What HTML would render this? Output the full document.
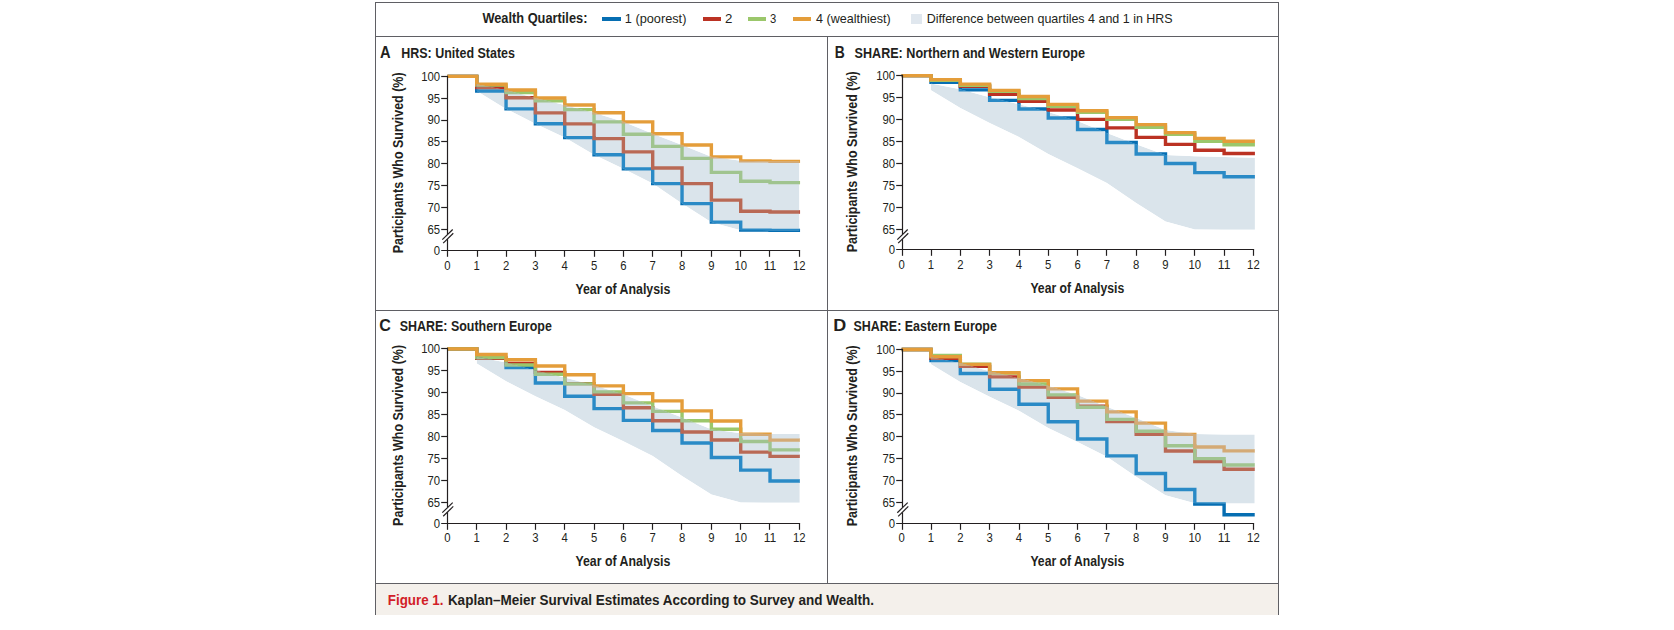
<!DOCTYPE html>
<html><head><meta charset="utf-8"><title>Figure 1</title>
<style>
html,body{margin:0;padding:0;background:#fff;}
body{width:1674px;height:630px;overflow:hidden;font-family:"Liberation Sans", sans-serif;}
svg{display:block;}
</style></head><body>
<svg width="1674" height="630" viewBox="0 0 1674 630">
<rect x="0" y="0" width="1674" height="630" fill="#fff"/>
<rect x="376" y="584" width="902" height="31" fill="rgb(244,240,235)"/>
<g stroke="#5f5f64" stroke-width="1" fill="none">
<line x1="375.5" y1="2" x2="375.5" y2="615"/>
<line x1="1278.5" y1="2" x2="1278.5" y2="615"/>
<line x1="375" y1="2.5" x2="1279" y2="2.5"/>
<line x1="375" y1="36.5" x2="1279" y2="36.5"/>
<line x1="375" y1="310.5" x2="1279" y2="310.5"/>
<line x1="375" y1="583.5" x2="1279" y2="583.5"/>
<line x1="827.5" y1="36" x2="827.5" y2="584"/>
</g>
<text id="capR" x="387.76" y="605.10" font-family="'Liberation Sans', sans-serif" font-weight="bold" font-size="14.5" fill="rgb(210,30,40)" textLength="55.77" lengthAdjust="spacingAndGlyphs">Figure 1.</text>
<text id="capT" x="447.89" y="605.10" font-family="'Liberation Sans', sans-serif" font-weight="bold" font-size="14.5" fill="#231f20" textLength="426.11" lengthAdjust="spacingAndGlyphs">Kaplan–Meier Survival Estimates According to Survey and Wealth.</text>
<text id="leg0" x="482.40" y="22.90" font-family="'Liberation Sans', sans-serif" font-weight="bold" font-size="14.5" fill="#231f20" textLength="105.02" lengthAdjust="spacingAndGlyphs">Wealth Quartiles:</text>
<rect x="602" y="17" width="19" height="4" fill="rgb(6,110,178)"/>
<text id="leg1" x="624.78" y="22.90" font-family="'Liberation Sans', sans-serif" font-weight="normal" font-size="13.0" fill="#231f20" textLength="61.62" lengthAdjust="spacingAndGlyphs">1 (poorest)</text>
<rect x="703" y="17" width="18" height="4" fill="rgb(187,50,35)"/>
<text id="leg2" x="725.14" y="22.90" font-family="'Liberation Sans', sans-serif" font-weight="normal" font-size="13.0" fill="#231f20" textLength="7.38" lengthAdjust="spacingAndGlyphs">2</text>
<rect x="748" y="17" width="18" height="4" fill="rgb(155,199,107)"/>
<text id="leg3" x="769.97" y="22.90" font-family="'Liberation Sans', sans-serif" font-weight="normal" font-size="13.0" fill="#231f20" textLength="6.25" lengthAdjust="spacingAndGlyphs">3</text>
<rect x="793" y="17" width="18" height="4" fill="rgb(228,157,58)"/>
<text id="leg4" x="816.09" y="22.90" font-family="'Liberation Sans', sans-serif" font-weight="normal" font-size="13.0" fill="#231f20" textLength="74.62" lengthAdjust="spacingAndGlyphs">4 (wealthiest)</text>
<rect x="911" y="14" width="11" height="10" fill="rgb(224,231,238)"/>
<text id="leg5" x="926.69" y="22.90" font-family="'Liberation Sans', sans-serif" font-weight="normal" font-size="13.0" fill="#231f20" textLength="246.01" lengthAdjust="spacingAndGlyphs">Difference between quartiles 4 and 1 in HRS</text>
<path d="M447.40,76.40 H476.73 V91.04 H506.06 V108.88 H535.39 V123.69 H564.72 V137.59 H594.05 V154.82 H623.38 V168.85 H652.71 V183.62 H682.04 V203.60 H711.37 V222.13 H740.70 V230.13 H770.03 V230.39 H800.06" fill="none" stroke="rgb(6,110,178)" stroke-width="3.4"/>
<path d="M447.40,76.40 H476.73 V87.55 H506.06 V97.82 H535.39 V112.90 H564.72 V123.83 H594.05 V138.60 H623.38 V151.89 H652.71 V167.97 H682.04 V183.66 H711.37 V200.10 H740.70 V211.29 H770.03 V211.99 H800.06" fill="none" stroke="rgb(187,50,35)" stroke-width="3.4"/>
<path d="M447.40,76.40 H476.73 V85.14 H506.06 V92.57 H535.39 V100.88 H564.72 V109.62 H594.05 V121.86 H623.38 V134.32 H652.71 V146.42 H682.04 V158.36 H711.37 V172.39 H740.70 V181.30 H770.03 V182.62 H800.06" fill="none" stroke="rgb(155,199,107)" stroke-width="3.4"/>
<path d="M447.40,76.40 H476.73 V84.18 H506.06 V89.95 H535.39 V98.04 H564.72 V105.03 H594.05 V112.68 H623.38 V121.86 H652.71 V133.75 H682.04 V145.02 H711.37 V156.83 H740.70 V160.85 H770.03 V161.42 H800.06" fill="none" stroke="rgb(228,157,58)" stroke-width="3.4"/>
<clipPath id="clipA"><polygon points="476.73,84.18 506.06,89.95 535.39,98.04 564.72,105.03 594.05,112.68 623.38,121.86 652.71,133.75 682.04,145.02 711.37,156.83 740.70,160.85 770.03,161.42 799.36,161.42 799.36,230.39 770.03,230.39 740.70,230.13 711.37,222.13 682.04,203.60 652.71,183.62 623.38,168.85 594.05,154.82 564.72,137.59 535.39,123.69 506.06,108.88 476.73,91.04"/></clipPath>
<g clip-path="url(#clipA)">
<polygon points="476.73,84.18 506.06,89.95 535.39,98.04 564.72,105.03 594.05,112.68 623.38,121.86 652.71,133.75 682.04,145.02 711.37,156.83 740.70,160.85 770.03,161.42 799.36,161.42 799.36,230.39 770.03,230.39 740.70,230.13 711.37,222.13 682.04,203.60 652.71,183.62 623.38,168.85 594.05,154.82 564.72,137.59 535.39,123.69 506.06,108.88 476.73,91.04" fill="rgb(218,228,235)"/>
<path d="M447.40,76.40 H476.73 V91.04 H506.06 V108.88 H535.39 V123.69 H564.72 V137.59 H594.05 V154.82 H623.38 V168.85 H652.71 V183.62 H682.04 V203.60 H711.37 V222.13 H740.70 V230.13 H770.03 V230.39 H800.06" fill="none" stroke="rgb(42,138,198)" stroke-width="3.4"/>
<path d="M447.40,76.40 H476.73 V87.55 H506.06 V97.82 H535.39 V112.90 H564.72 V123.83 H594.05 V138.60 H623.38 V151.89 H652.71 V167.97 H682.04 V183.66 H711.37 V200.10 H740.70 V211.29 H770.03 V211.99 H800.06" fill="none" stroke="rgb(185,105,85)" stroke-width="3.4"/>
<path d="M447.40,76.40 H476.73 V85.14 H506.06 V92.57 H535.39 V100.88 H564.72 V109.62 H594.05 V121.86 H623.38 V134.32 H652.71 V146.42 H682.04 V158.36 H711.37 V172.39 H740.70 V181.30 H770.03 V182.62 H800.06" fill="none" stroke="rgb(160,196,143)" stroke-width="3.4"/>
<path d="M447.40,76.40 H476.73 V84.18 H506.06 V89.95 H535.39 V98.04 H564.72 V105.03 H594.05 V112.68 H623.38 V121.86 H652.71 V133.75 H682.04 V145.02 H711.37 V156.83 H740.70 V160.85 H770.03 V161.42 H800.06" fill="none" stroke="rgb(212,170,118)" stroke-width="3.4"/>
</g>
<g stroke="#231f20" stroke-width="1.2" fill="none">
<line x1="447.50" y1="75.84" x2="447.50" y2="234.09"/>
<line x1="447.50" y1="239.19" x2="447.50" y2="256.80"/>
<line x1="442.30" y1="239.59" x2="452.70" y2="229.49"/>
<line x1="443.20" y1="243.19" x2="453.30" y2="233.29"/>
<line x1="441.20" y1="250.50" x2="800.10" y2="250.50"/>
<line x1="441.20" y1="76.50" x2="447.50" y2="76.50"/>
<line x1="441.20" y1="98.50" x2="447.50" y2="98.50"/>
<line x1="441.20" y1="120.50" x2="447.50" y2="120.50"/>
<line x1="441.20" y1="141.50" x2="447.50" y2="141.50"/>
<line x1="441.20" y1="163.50" x2="447.50" y2="163.50"/>
<line x1="441.20" y1="185.50" x2="447.50" y2="185.50"/>
<line x1="441.20" y1="207.50" x2="447.50" y2="207.50"/>
<line x1="441.20" y1="229.50" x2="447.50" y2="229.50"/>
<line x1="477.50" y1="250.50" x2="477.50" y2="256.80"/>
<line x1="506.50" y1="250.50" x2="506.50" y2="256.80"/>
<line x1="535.50" y1="250.50" x2="535.50" y2="256.80"/>
<line x1="564.50" y1="250.50" x2="564.50" y2="256.80"/>
<line x1="594.50" y1="250.50" x2="594.50" y2="256.80"/>
<line x1="623.50" y1="250.50" x2="623.50" y2="256.80"/>
<line x1="652.50" y1="250.50" x2="652.50" y2="256.80"/>
<line x1="681.50" y1="250.50" x2="681.50" y2="256.80"/>
<line x1="711.50" y1="250.50" x2="711.50" y2="256.80"/>
<line x1="740.50" y1="250.50" x2="740.50" y2="256.80"/>
<line x1="769.50" y1="250.50" x2="769.50" y2="256.80"/>
<line x1="799.50" y1="250.50" x2="799.50" y2="256.80"/>
</g>
<g font-family="'Liberation Sans', sans-serif" font-size="12.2" fill="#231f20">
<text x="440.10" y="80.74" text-anchor="end" textLength="18.90" lengthAdjust="spacingAndGlyphs">100</text>
<text x="440.10" y="102.59" text-anchor="end" textLength="12.60" lengthAdjust="spacingAndGlyphs">95</text>
<text x="440.10" y="124.44" text-anchor="end" textLength="12.60" lengthAdjust="spacingAndGlyphs">90</text>
<text x="440.10" y="146.29" text-anchor="end" textLength="12.60" lengthAdjust="spacingAndGlyphs">85</text>
<text x="440.10" y="168.14" text-anchor="end" textLength="12.60" lengthAdjust="spacingAndGlyphs">80</text>
<text x="440.10" y="189.99" text-anchor="end" textLength="12.60" lengthAdjust="spacingAndGlyphs">75</text>
<text x="440.10" y="211.84" text-anchor="end" textLength="12.60" lengthAdjust="spacingAndGlyphs">70</text>
<text x="440.10" y="233.69" text-anchor="end" textLength="12.60" lengthAdjust="spacingAndGlyphs">65</text>
<text x="440.10" y="254.80" text-anchor="end" textLength="6.30" lengthAdjust="spacingAndGlyphs">0</text>
<text x="447.40" y="269.60" text-anchor="middle" textLength="6.30" lengthAdjust="spacingAndGlyphs">0</text>
<text x="476.73" y="269.60" text-anchor="middle" textLength="6.30" lengthAdjust="spacingAndGlyphs">1</text>
<text x="506.06" y="269.60" text-anchor="middle" textLength="6.30" lengthAdjust="spacingAndGlyphs">2</text>
<text x="535.39" y="269.60" text-anchor="middle" textLength="6.30" lengthAdjust="spacingAndGlyphs">3</text>
<text x="564.72" y="269.60" text-anchor="middle" textLength="6.30" lengthAdjust="spacingAndGlyphs">4</text>
<text x="594.05" y="269.60" text-anchor="middle" textLength="6.30" lengthAdjust="spacingAndGlyphs">5</text>
<text x="623.38" y="269.60" text-anchor="middle" textLength="6.30" lengthAdjust="spacingAndGlyphs">6</text>
<text x="652.71" y="269.60" text-anchor="middle" textLength="6.30" lengthAdjust="spacingAndGlyphs">7</text>
<text x="682.04" y="269.60" text-anchor="middle" textLength="6.30" lengthAdjust="spacingAndGlyphs">8</text>
<text x="711.37" y="269.60" text-anchor="middle" textLength="6.30" lengthAdjust="spacingAndGlyphs">9</text>
<text x="740.70" y="269.60" text-anchor="middle" textLength="12.60" lengthAdjust="spacingAndGlyphs">10</text>
<text x="770.03" y="269.60" text-anchor="middle" textLength="12.60" lengthAdjust="spacingAndGlyphs">11</text>
<text x="799.36" y="269.60" text-anchor="middle" textLength="12.60" lengthAdjust="spacingAndGlyphs">12</text>
</g>
<text id="xlA" x="575.38" y="293.70" font-family="'Liberation Sans', sans-serif" font-weight="bold" font-size="14.5" fill="#231f20" textLength="95.02" lengthAdjust="spacingAndGlyphs">Year of Analysis</text>
<text id="ylA" transform="translate(402.80,162.87) rotate(-90)" x="0" y="0" text-anchor="middle" font-family="'Liberation Sans', sans-serif" font-weight="bold" font-size="14.5" fill="#231f20" textLength="181" lengthAdjust="spacingAndGlyphs">Participants Who Survived (%)</text>
<text id="letA" x="380.00" y="57.70" font-family="'Liberation Sans', sans-serif" font-weight="bold" font-size="16.5" fill="#231f20" textLength="10.62" lengthAdjust="spacingAndGlyphs">A</text>
<text id="titA" x="401.29" y="57.80" font-family="'Liberation Sans', sans-serif" font-weight="bold" font-size="14.5" fill="#231f20" textLength="113.63" lengthAdjust="spacingAndGlyphs">HRS: United States</text>
<path d="M901.70,75.60 H931.01 V82.38 H960.32 V89.91 H989.63 V100.37 H1018.94 V109.00 H1048.25 V118.06 H1077.56 V129.44 H1106.87 V142.48 H1136.18 V153.95 H1165.49 V163.49 H1194.80 V172.59 H1224.11 V176.80 H1254.92" fill="none" stroke="rgb(6,110,178)" stroke-width="3.4"/>
<path d="M901.70,75.60 H931.01 V80.20 H960.32 V86.32 H989.63 V94.42 H1018.94 V101.38 H1048.25 V110.05 H1077.56 V119.37 H1106.87 V127.91 H1136.18 V137.40 H1165.49 V144.36 H1194.80 V150.23 H1224.11 V153.47 H1254.92" fill="none" stroke="rgb(187,50,35)" stroke-width="3.4"/>
<path d="M901.70,75.60 H931.01 V80.37 H960.32 V85.40 H989.63 V91.36 H1018.94 V98.49 H1048.25 V106.24 H1077.56 V112.28 H1106.87 V119.37 H1136.18 V127.25 H1165.49 V134.25 H1194.80 V141.39 H1224.11 V144.76 H1254.92" fill="none" stroke="rgb(155,199,107)" stroke-width="3.4"/>
<path d="M901.70,75.60 H931.01 V79.58 H960.32 V84.14 H989.63 V90.39 H1018.94 V96.57 H1048.25 V104.40 H1077.56 V110.79 H1106.87 V117.58 H1136.18 V124.62 H1165.49 V132.63 H1194.80 V138.37 H1224.11 V141.25 H1254.92" fill="none" stroke="rgb(228,157,58)" stroke-width="3.4"/>
<clipPath id="clipB"><polygon points="931.01,83.39 960.32,89.17 989.63,97.27 1018.94,104.27 1048.25,111.93 1077.56,121.12 1106.87,133.03 1136.18,144.32 1165.49,155.09 1194.80,156.22 1224.11,157.01 1254.92,157.80 1254.92,229.80 1224.11,229.80 1194.80,229.54 1165.49,221.53 1136.18,202.97 1106.87,182.97 1077.56,168.17 1048.25,154.12 1018.94,136.88 989.63,122.96 960.32,108.12 931.01,90.26"/></clipPath>
<g clip-path="url(#clipB)">
<polygon points="931.01,83.39 960.32,89.17 989.63,97.27 1018.94,104.27 1048.25,111.93 1077.56,121.12 1106.87,133.03 1136.18,144.32 1165.49,155.09 1194.80,156.22 1224.11,157.01 1254.92,157.80 1254.92,229.80 1224.11,229.80 1194.80,229.54 1165.49,221.53 1136.18,202.97 1106.87,182.97 1077.56,168.17 1048.25,154.12 1018.94,136.88 989.63,122.96 960.32,108.12 931.01,90.26" fill="rgb(218,228,235)"/>
<path d="M901.70,75.60 H931.01 V82.38 H960.32 V89.91 H989.63 V100.37 H1018.94 V109.00 H1048.25 V118.06 H1077.56 V129.44 H1106.87 V142.48 H1136.18 V153.95 H1165.49 V163.49 H1194.80 V172.59 H1224.11 V176.80 H1254.92" fill="none" stroke="rgb(42,138,198)" stroke-width="3.4"/>
<path d="M901.70,75.60 H931.01 V80.20 H960.32 V86.32 H989.63 V94.42 H1018.94 V101.38 H1048.25 V110.05 H1077.56 V119.37 H1106.87 V127.91 H1136.18 V137.40 H1165.49 V144.36 H1194.80 V150.23 H1224.11 V153.47 H1254.92" fill="none" stroke="rgb(185,105,85)" stroke-width="3.4"/>
<path d="M901.70,75.60 H931.01 V80.37 H960.32 V85.40 H989.63 V91.36 H1018.94 V98.49 H1048.25 V106.24 H1077.56 V112.28 H1106.87 V119.37 H1136.18 V127.25 H1165.49 V134.25 H1194.80 V141.39 H1224.11 V144.76 H1254.92" fill="none" stroke="rgb(160,196,143)" stroke-width="3.4"/>
<path d="M901.70,75.60 H931.01 V79.58 H960.32 V84.14 H989.63 V90.39 H1018.94 V96.57 H1048.25 V104.40 H1077.56 V110.79 H1106.87 V117.58 H1136.18 V124.62 H1165.49 V132.63 H1194.80 V138.37 H1224.11 V141.25 H1254.92" fill="none" stroke="rgb(212,170,118)" stroke-width="3.4"/>
</g>
<g stroke="#231f20" stroke-width="1.2" fill="none">
<line x1="902.50" y1="74.75" x2="902.50" y2="234.08"/>
<line x1="902.50" y1="239.19" x2="902.50" y2="255.80"/>
<line x1="897.30" y1="239.58" x2="907.70" y2="229.48"/>
<line x1="898.20" y1="243.19" x2="908.30" y2="233.28"/>
<line x1="896.20" y1="249.50" x2="1254.10" y2="249.50"/>
<line x1="896.20" y1="75.50" x2="902.50" y2="75.50"/>
<line x1="896.20" y1="97.50" x2="902.50" y2="97.50"/>
<line x1="896.20" y1="119.50" x2="902.50" y2="119.50"/>
<line x1="896.20" y1="141.50" x2="902.50" y2="141.50"/>
<line x1="896.20" y1="163.50" x2="902.50" y2="163.50"/>
<line x1="896.20" y1="185.50" x2="902.50" y2="185.50"/>
<line x1="896.20" y1="207.50" x2="902.50" y2="207.50"/>
<line x1="896.20" y1="229.50" x2="902.50" y2="229.50"/>
<line x1="931.50" y1="249.50" x2="931.50" y2="255.80"/>
<line x1="960.50" y1="249.50" x2="960.50" y2="255.80"/>
<line x1="989.50" y1="249.50" x2="989.50" y2="255.80"/>
<line x1="1019.50" y1="249.50" x2="1019.50" y2="255.80"/>
<line x1="1048.50" y1="249.50" x2="1048.50" y2="255.80"/>
<line x1="1077.50" y1="249.50" x2="1077.50" y2="255.80"/>
<line x1="1106.50" y1="249.50" x2="1106.50" y2="255.80"/>
<line x1="1136.50" y1="249.50" x2="1136.50" y2="255.80"/>
<line x1="1165.50" y1="249.50" x2="1165.50" y2="255.80"/>
<line x1="1194.50" y1="249.50" x2="1194.50" y2="255.80"/>
<line x1="1224.50" y1="249.50" x2="1224.50" y2="255.80"/>
<line x1="1253.50" y1="249.50" x2="1253.50" y2="255.80"/>
</g>
<g font-family="'Liberation Sans', sans-serif" font-size="12.2" fill="#231f20">
<text x="895.10" y="79.65" text-anchor="end" textLength="18.90" lengthAdjust="spacingAndGlyphs">100</text>
<text x="895.10" y="101.65" text-anchor="end" textLength="12.60" lengthAdjust="spacingAndGlyphs">95</text>
<text x="895.10" y="123.66" text-anchor="end" textLength="12.60" lengthAdjust="spacingAndGlyphs">90</text>
<text x="895.10" y="145.67" text-anchor="end" textLength="12.60" lengthAdjust="spacingAndGlyphs">85</text>
<text x="895.10" y="167.67" text-anchor="end" textLength="12.60" lengthAdjust="spacingAndGlyphs">80</text>
<text x="895.10" y="189.68" text-anchor="end" textLength="12.60" lengthAdjust="spacingAndGlyphs">75</text>
<text x="895.10" y="211.68" text-anchor="end" textLength="12.60" lengthAdjust="spacingAndGlyphs">70</text>
<text x="895.10" y="233.69" text-anchor="end" textLength="12.60" lengthAdjust="spacingAndGlyphs">65</text>
<text x="895.10" y="253.80" text-anchor="end" textLength="6.30" lengthAdjust="spacingAndGlyphs">0</text>
<text x="901.70" y="268.80" text-anchor="middle" textLength="6.30" lengthAdjust="spacingAndGlyphs">0</text>
<text x="931.01" y="268.80" text-anchor="middle" textLength="6.30" lengthAdjust="spacingAndGlyphs">1</text>
<text x="960.32" y="268.80" text-anchor="middle" textLength="6.30" lengthAdjust="spacingAndGlyphs">2</text>
<text x="989.63" y="268.80" text-anchor="middle" textLength="6.30" lengthAdjust="spacingAndGlyphs">3</text>
<text x="1018.94" y="268.80" text-anchor="middle" textLength="6.30" lengthAdjust="spacingAndGlyphs">4</text>
<text x="1048.25" y="268.80" text-anchor="middle" textLength="6.30" lengthAdjust="spacingAndGlyphs">5</text>
<text x="1077.56" y="268.80" text-anchor="middle" textLength="6.30" lengthAdjust="spacingAndGlyphs">6</text>
<text x="1106.87" y="268.80" text-anchor="middle" textLength="6.30" lengthAdjust="spacingAndGlyphs">7</text>
<text x="1136.18" y="268.80" text-anchor="middle" textLength="6.30" lengthAdjust="spacingAndGlyphs">8</text>
<text x="1165.49" y="268.80" text-anchor="middle" textLength="6.30" lengthAdjust="spacingAndGlyphs">9</text>
<text x="1194.80" y="268.80" text-anchor="middle" textLength="12.60" lengthAdjust="spacingAndGlyphs">10</text>
<text x="1224.11" y="268.80" text-anchor="middle" textLength="12.60" lengthAdjust="spacingAndGlyphs">11</text>
<text x="1253.42" y="268.80" text-anchor="middle" textLength="12.60" lengthAdjust="spacingAndGlyphs">12</text>
</g>
<text id="xlB" x="1030.39" y="292.90" font-family="'Liberation Sans', sans-serif" font-weight="bold" font-size="14.5" fill="#231f20" textLength="93.81" lengthAdjust="spacingAndGlyphs">Year of Analysis</text>
<text id="ylB" transform="translate(857.00,161.83) rotate(-90)" x="0" y="0" text-anchor="middle" font-family="'Liberation Sans', sans-serif" font-weight="bold" font-size="14.5" fill="#231f20" textLength="181" lengthAdjust="spacingAndGlyphs">Participants Who Survived (%)</text>
<text id="letB" x="834.87" y="57.70" font-family="'Liberation Sans', sans-serif" font-weight="bold" font-size="16.5" fill="#231f20" textLength="10.03" lengthAdjust="spacingAndGlyphs">B</text>
<text id="titB" x="854.59" y="57.80" font-family="'Liberation Sans', sans-serif" font-weight="bold" font-size="14.5" fill="#231f20" textLength="230.42" lengthAdjust="spacingAndGlyphs">SHARE: Northern and Western Europe</text>
<path d="M447.40,348.90 H476.73 V357.99 H506.06 V367.52 H535.39 V382.99 H564.72 V396.31 H594.05 V408.59 H623.38 V420.39 H652.71 V430.49 H682.04 V442.94 H711.37 V457.49 H740.70 V470.12 H770.03 V481.01 H799.86" fill="none" stroke="rgb(6,110,178)" stroke-width="3.4"/>
<path d="M447.40,348.90 H476.73 V358.38 H506.06 V363.36 H535.39 V372.41 H564.72 V383.64 H594.05 V394.35 H623.38 V407.68 H652.71 V420.70 H682.04 V431.93 H711.37 V440.01 H740.70 V452.16 H770.03 V456.40 H799.86" fill="none" stroke="rgb(187,50,35)" stroke-width="3.4"/>
<path d="M447.40,348.90 H476.73 V357.47 H506.06 V365.07 H535.39 V374.25 H564.72 V383.86 H594.05 V391.86 H623.38 V402.87 H652.71 V411.39 H682.04 V420.70 H711.37 V429.31 H740.70 V441.46 H770.03 V449.85 H799.86" fill="none" stroke="rgb(155,199,107)" stroke-width="3.4"/>
<path d="M447.40,348.90 H476.73 V354.45 H506.06 V359.82 H535.39 V366.07 H564.72 V374.68 H594.05 V385.83 H623.38 V393.65 H652.71 V400.86 H682.04 V410.91 H711.37 V421.00 H740.70 V434.29 H770.03 V440.15 H799.86" fill="none" stroke="rgb(228,157,58)" stroke-width="3.4"/>
<clipPath id="clipC"><polygon points="476.73,356.68 506.06,362.45 535.39,370.53 564.72,377.52 594.05,385.17 623.38,394.35 652.71,406.23 682.04,417.51 711.37,429.31 740.70,433.33 770.03,433.90 799.76,433.90 799.76,502.86 770.03,502.86 740.70,502.59 711.37,494.60 682.04,476.07 652.71,456.10 623.38,441.33 594.05,427.30 564.72,410.08 535.39,396.18 506.06,381.37 476.73,363.54"/></clipPath>
<g clip-path="url(#clipC)">
<polygon points="476.73,356.68 506.06,362.45 535.39,370.53 564.72,377.52 594.05,385.17 623.38,394.35 652.71,406.23 682.04,417.51 711.37,429.31 740.70,433.33 770.03,433.90 799.76,433.90 799.76,502.86 770.03,502.86 740.70,502.59 711.37,494.60 682.04,476.07 652.71,456.10 623.38,441.33 594.05,427.30 564.72,410.08 535.39,396.18 506.06,381.37 476.73,363.54" fill="rgb(218,228,235)"/>
<path d="M447.40,348.90 H476.73 V357.99 H506.06 V367.52 H535.39 V382.99 H564.72 V396.31 H594.05 V408.59 H623.38 V420.39 H652.71 V430.49 H682.04 V442.94 H711.37 V457.49 H740.70 V470.12 H770.03 V481.01 H799.86" fill="none" stroke="rgb(42,138,198)" stroke-width="3.4"/>
<path d="M447.40,348.90 H476.73 V358.38 H506.06 V363.36 H535.39 V372.41 H564.72 V383.64 H594.05 V394.35 H623.38 V407.68 H652.71 V420.70 H682.04 V431.93 H711.37 V440.01 H740.70 V452.16 H770.03 V456.40 H799.86" fill="none" stroke="rgb(185,105,85)" stroke-width="3.4"/>
<path d="M447.40,348.90 H476.73 V357.47 H506.06 V365.07 H535.39 V374.25 H564.72 V383.86 H594.05 V391.86 H623.38 V402.87 H652.71 V411.39 H682.04 V420.70 H711.37 V429.31 H740.70 V441.46 H770.03 V449.85 H799.86" fill="none" stroke="rgb(160,196,143)" stroke-width="3.4"/>
<path d="M447.40,348.90 H476.73 V354.45 H506.06 V359.82 H535.39 V366.07 H564.72 V374.68 H594.05 V385.83 H623.38 V393.65 H652.71 V400.86 H682.04 V410.91 H711.37 V421.00 H740.70 V434.29 H770.03 V440.15 H799.86" fill="none" stroke="rgb(212,170,118)" stroke-width="3.4"/>
</g>
<g stroke="#231f20" stroke-width="1.2" fill="none">
<line x1="447.50" y1="347.85" x2="447.50" y2="507.19"/>
<line x1="447.50" y1="512.28" x2="447.50" y2="529.80"/>
<line x1="442.30" y1="512.69" x2="452.70" y2="502.59"/>
<line x1="443.20" y1="516.28" x2="453.30" y2="506.38"/>
<line x1="441.20" y1="523.50" x2="800.10" y2="523.50"/>
<line x1="441.20" y1="348.50" x2="447.50" y2="348.50"/>
<line x1="441.20" y1="370.50" x2="447.50" y2="370.50"/>
<line x1="441.20" y1="392.50" x2="447.50" y2="392.50"/>
<line x1="441.20" y1="414.50" x2="447.50" y2="414.50"/>
<line x1="441.20" y1="436.50" x2="447.50" y2="436.50"/>
<line x1="441.20" y1="458.50" x2="447.50" y2="458.50"/>
<line x1="441.20" y1="480.50" x2="447.50" y2="480.50"/>
<line x1="441.20" y1="502.50" x2="447.50" y2="502.50"/>
<line x1="476.50" y1="523.50" x2="476.50" y2="529.80"/>
<line x1="506.50" y1="523.50" x2="506.50" y2="529.80"/>
<line x1="535.50" y1="523.50" x2="535.50" y2="529.80"/>
<line x1="564.50" y1="523.50" x2="564.50" y2="529.80"/>
<line x1="594.50" y1="523.50" x2="594.50" y2="529.80"/>
<line x1="623.50" y1="523.50" x2="623.50" y2="529.80"/>
<line x1="652.50" y1="523.50" x2="652.50" y2="529.80"/>
<line x1="681.50" y1="523.50" x2="681.50" y2="529.80"/>
<line x1="711.50" y1="523.50" x2="711.50" y2="529.80"/>
<line x1="740.50" y1="523.50" x2="740.50" y2="529.80"/>
<line x1="769.50" y1="523.50" x2="769.50" y2="529.80"/>
<line x1="799.50" y1="523.50" x2="799.50" y2="529.80"/>
</g>
<g font-family="'Liberation Sans', sans-serif" font-size="12.2" fill="#231f20">
<text x="440.10" y="352.75" text-anchor="end" textLength="18.90" lengthAdjust="spacingAndGlyphs">100</text>
<text x="440.10" y="374.75" text-anchor="end" textLength="12.60" lengthAdjust="spacingAndGlyphs">95</text>
<text x="440.10" y="396.76" text-anchor="end" textLength="12.60" lengthAdjust="spacingAndGlyphs">90</text>
<text x="440.10" y="418.76" text-anchor="end" textLength="12.60" lengthAdjust="spacingAndGlyphs">85</text>
<text x="440.10" y="440.77" text-anchor="end" textLength="12.60" lengthAdjust="spacingAndGlyphs">80</text>
<text x="440.10" y="462.77" text-anchor="end" textLength="12.60" lengthAdjust="spacingAndGlyphs">75</text>
<text x="440.10" y="484.78" text-anchor="end" textLength="12.60" lengthAdjust="spacingAndGlyphs">70</text>
<text x="440.10" y="506.79" text-anchor="end" textLength="12.60" lengthAdjust="spacingAndGlyphs">65</text>
<text x="440.10" y="527.80" text-anchor="end" textLength="6.30" lengthAdjust="spacingAndGlyphs">0</text>
<text x="447.40" y="541.50" text-anchor="middle" textLength="6.30" lengthAdjust="spacingAndGlyphs">0</text>
<text x="476.73" y="541.50" text-anchor="middle" textLength="6.30" lengthAdjust="spacingAndGlyphs">1</text>
<text x="506.06" y="541.50" text-anchor="middle" textLength="6.30" lengthAdjust="spacingAndGlyphs">2</text>
<text x="535.39" y="541.50" text-anchor="middle" textLength="6.30" lengthAdjust="spacingAndGlyphs">3</text>
<text x="564.72" y="541.50" text-anchor="middle" textLength="6.30" lengthAdjust="spacingAndGlyphs">4</text>
<text x="594.05" y="541.50" text-anchor="middle" textLength="6.30" lengthAdjust="spacingAndGlyphs">5</text>
<text x="623.38" y="541.50" text-anchor="middle" textLength="6.30" lengthAdjust="spacingAndGlyphs">6</text>
<text x="652.71" y="541.50" text-anchor="middle" textLength="6.30" lengthAdjust="spacingAndGlyphs">7</text>
<text x="682.04" y="541.50" text-anchor="middle" textLength="6.30" lengthAdjust="spacingAndGlyphs">8</text>
<text x="711.37" y="541.50" text-anchor="middle" textLength="6.30" lengthAdjust="spacingAndGlyphs">9</text>
<text x="740.70" y="541.50" text-anchor="middle" textLength="12.60" lengthAdjust="spacingAndGlyphs">10</text>
<text x="770.03" y="541.50" text-anchor="middle" textLength="12.60" lengthAdjust="spacingAndGlyphs">11</text>
<text x="799.36" y="541.50" text-anchor="middle" textLength="12.60" lengthAdjust="spacingAndGlyphs">12</text>
</g>
<text id="xlC" x="575.38" y="565.60" font-family="'Liberation Sans', sans-serif" font-weight="bold" font-size="14.5" fill="#231f20" textLength="95.02" lengthAdjust="spacingAndGlyphs">Year of Analysis</text>
<text id="ylC" transform="translate(402.80,435.38) rotate(-90)" x="0" y="0" text-anchor="middle" font-family="'Liberation Sans', sans-serif" font-weight="bold" font-size="14.5" fill="#231f20" textLength="181" lengthAdjust="spacingAndGlyphs">Participants Who Survived (%)</text>
<text id="letC" x="379.24" y="330.80" font-family="'Liberation Sans', sans-serif" font-weight="bold" font-size="16.5" fill="#231f20" textLength="11.62" lengthAdjust="spacingAndGlyphs">C</text>
<text id="titC" x="399.80" y="330.80" font-family="'Liberation Sans', sans-serif" font-weight="bold" font-size="14.5" fill="#231f20" textLength="152.01" lengthAdjust="spacingAndGlyphs">SHARE: Southern Europe</text>
<path d="M901.70,349.50 H931.01 V360.43 H960.32 V373.54 H989.63 V389.31 H1018.94 V404.30 H1048.25 V421.74 H1077.56 V438.95 H1106.87 V455.91 H1136.18 V473.48 H1165.49 V489.51 H1194.80 V503.98 H1224.11 V514.82 H1254.72" fill="none" stroke="rgb(6,110,178)" stroke-width="3.4"/>
<path d="M901.70,349.50 H931.01 V358.24 H960.32 V366.41 H989.63 V376.90 H1018.94 V387.13 H1048.25 V397.40 H1077.56 V406.09 H1106.87 V421.61 H1136.18 V434.28 H1165.49 V451.02 H1194.80 V461.50 H1224.11 V469.24 H1254.72" fill="none" stroke="rgb(187,50,35)" stroke-width="3.4"/>
<path d="M901.70,349.50 H931.01 V355.49 H960.32 V364.14 H989.63 V373.10 H1018.94 V384.02 H1048.25 V394.90 H1077.56 V407.27 H1106.87 V419.42 H1136.18 V431.22 H1165.49 V445.68 H1194.80 V458.62 H1224.11 V464.96 H1254.72" fill="none" stroke="rgb(155,199,107)" stroke-width="3.4"/>
<path d="M901.70,349.50 H931.01 V356.80 H960.32 V364.40 H989.63 V372.79 H1018.94 V380.61 H1048.25 V388.92 H1077.56 V401.15 H1106.87 V411.90 H1136.18 V423.13 H1165.49 V434.41 H1194.80 V446.95 H1224.11 V450.88 H1254.72" fill="none" stroke="rgb(228,157,58)" stroke-width="3.4"/>
<clipPath id="clipD"><polygon points="931.01,357.28 960.32,363.05 989.63,371.13 1018.94,378.12 1048.25,385.77 1077.56,394.95 1106.87,406.83 1136.18,418.11 1165.49,429.91 1194.80,433.93 1224.11,434.50 1254.72,434.50 1254.72,503.46 1224.11,503.46 1194.80,503.19 1165.49,495.20 1136.18,476.67 1106.87,456.70 1077.56,441.93 1048.25,427.90 1018.94,410.68 989.63,396.78 960.32,381.97 931.01,364.14"/></clipPath>
<g clip-path="url(#clipD)">
<polygon points="931.01,357.28 960.32,363.05 989.63,371.13 1018.94,378.12 1048.25,385.77 1077.56,394.95 1106.87,406.83 1136.18,418.11 1165.49,429.91 1194.80,433.93 1224.11,434.50 1254.72,434.50 1254.72,503.46 1224.11,503.46 1194.80,503.19 1165.49,495.20 1136.18,476.67 1106.87,456.70 1077.56,441.93 1048.25,427.90 1018.94,410.68 989.63,396.78 960.32,381.97 931.01,364.14" fill="rgb(218,228,235)"/>
<path d="M901.70,349.50 H931.01 V360.43 H960.32 V373.54 H989.63 V389.31 H1018.94 V404.30 H1048.25 V421.74 H1077.56 V438.95 H1106.87 V455.91 H1136.18 V473.48 H1165.49 V489.51 H1194.80 V503.98 H1224.11 V514.82 H1254.72" fill="none" stroke="rgb(42,138,198)" stroke-width="3.4"/>
<path d="M901.70,349.50 H931.01 V358.24 H960.32 V366.41 H989.63 V376.90 H1018.94 V387.13 H1048.25 V397.40 H1077.56 V406.09 H1106.87 V421.61 H1136.18 V434.28 H1165.49 V451.02 H1194.80 V461.50 H1224.11 V469.24 H1254.72" fill="none" stroke="rgb(185,105,85)" stroke-width="3.4"/>
<path d="M901.70,349.50 H931.01 V355.49 H960.32 V364.14 H989.63 V373.10 H1018.94 V384.02 H1048.25 V394.90 H1077.56 V407.27 H1106.87 V419.42 H1136.18 V431.22 H1165.49 V445.68 H1194.80 V458.62 H1224.11 V464.96 H1254.72" fill="none" stroke="rgb(160,196,143)" stroke-width="3.4"/>
<path d="M901.70,349.50 H931.01 V356.80 H960.32 V364.40 H989.63 V372.79 H1018.94 V380.61 H1048.25 V388.92 H1077.56 V401.15 H1106.87 V411.90 H1136.18 V423.13 H1165.49 V434.41 H1194.80 V446.95 H1224.11 V450.88 H1254.72" fill="none" stroke="rgb(212,170,118)" stroke-width="3.4"/>
</g>
<g stroke="#231f20" stroke-width="1.2" fill="none">
<line x1="902.50" y1="348.75" x2="902.50" y2="507.21"/>
<line x1="902.50" y1="512.31" x2="902.50" y2="529.80"/>
<line x1="897.30" y1="512.71" x2="907.70" y2="502.61"/>
<line x1="898.20" y1="516.31" x2="908.30" y2="506.41"/>
<line x1="896.20" y1="523.50" x2="1254.10" y2="523.50"/>
<line x1="896.20" y1="349.50" x2="902.50" y2="349.50"/>
<line x1="896.20" y1="371.50" x2="902.50" y2="371.50"/>
<line x1="896.20" y1="393.50" x2="902.50" y2="393.50"/>
<line x1="896.20" y1="414.50" x2="902.50" y2="414.50"/>
<line x1="896.20" y1="436.50" x2="902.50" y2="436.50"/>
<line x1="896.20" y1="458.50" x2="902.50" y2="458.50"/>
<line x1="896.20" y1="480.50" x2="902.50" y2="480.50"/>
<line x1="896.20" y1="502.50" x2="902.50" y2="502.50"/>
<line x1="931.50" y1="523.50" x2="931.50" y2="529.80"/>
<line x1="960.50" y1="523.50" x2="960.50" y2="529.80"/>
<line x1="989.50" y1="523.50" x2="989.50" y2="529.80"/>
<line x1="1019.50" y1="523.50" x2="1019.50" y2="529.80"/>
<line x1="1048.50" y1="523.50" x2="1048.50" y2="529.80"/>
<line x1="1077.50" y1="523.50" x2="1077.50" y2="529.80"/>
<line x1="1106.50" y1="523.50" x2="1106.50" y2="529.80"/>
<line x1="1136.50" y1="523.50" x2="1136.50" y2="529.80"/>
<line x1="1165.50" y1="523.50" x2="1165.50" y2="529.80"/>
<line x1="1194.50" y1="523.50" x2="1194.50" y2="529.80"/>
<line x1="1224.50" y1="523.50" x2="1224.50" y2="529.80"/>
<line x1="1253.50" y1="523.50" x2="1253.50" y2="529.80"/>
</g>
<g font-family="'Liberation Sans', sans-serif" font-size="12.2" fill="#231f20">
<text x="895.10" y="353.65" text-anchor="end" textLength="18.90" lengthAdjust="spacingAndGlyphs">100</text>
<text x="895.10" y="375.53" text-anchor="end" textLength="12.60" lengthAdjust="spacingAndGlyphs">95</text>
<text x="895.10" y="397.41" text-anchor="end" textLength="12.60" lengthAdjust="spacingAndGlyphs">90</text>
<text x="895.10" y="419.29" text-anchor="end" textLength="12.60" lengthAdjust="spacingAndGlyphs">85</text>
<text x="895.10" y="441.17" text-anchor="end" textLength="12.60" lengthAdjust="spacingAndGlyphs">80</text>
<text x="895.10" y="463.05" text-anchor="end" textLength="12.60" lengthAdjust="spacingAndGlyphs">75</text>
<text x="895.10" y="484.93" text-anchor="end" textLength="12.60" lengthAdjust="spacingAndGlyphs">70</text>
<text x="895.10" y="506.81" text-anchor="end" textLength="12.60" lengthAdjust="spacingAndGlyphs">65</text>
<text x="895.10" y="527.80" text-anchor="end" textLength="6.30" lengthAdjust="spacingAndGlyphs">0</text>
<text x="901.70" y="542.00" text-anchor="middle" textLength="6.30" lengthAdjust="spacingAndGlyphs">0</text>
<text x="931.01" y="542.00" text-anchor="middle" textLength="6.30" lengthAdjust="spacingAndGlyphs">1</text>
<text x="960.32" y="542.00" text-anchor="middle" textLength="6.30" lengthAdjust="spacingAndGlyphs">2</text>
<text x="989.63" y="542.00" text-anchor="middle" textLength="6.30" lengthAdjust="spacingAndGlyphs">3</text>
<text x="1018.94" y="542.00" text-anchor="middle" textLength="6.30" lengthAdjust="spacingAndGlyphs">4</text>
<text x="1048.25" y="542.00" text-anchor="middle" textLength="6.30" lengthAdjust="spacingAndGlyphs">5</text>
<text x="1077.56" y="542.00" text-anchor="middle" textLength="6.30" lengthAdjust="spacingAndGlyphs">6</text>
<text x="1106.87" y="542.00" text-anchor="middle" textLength="6.30" lengthAdjust="spacingAndGlyphs">7</text>
<text x="1136.18" y="542.00" text-anchor="middle" textLength="6.30" lengthAdjust="spacingAndGlyphs">8</text>
<text x="1165.49" y="542.00" text-anchor="middle" textLength="6.30" lengthAdjust="spacingAndGlyphs">9</text>
<text x="1194.80" y="542.00" text-anchor="middle" textLength="12.60" lengthAdjust="spacingAndGlyphs">10</text>
<text x="1224.11" y="542.00" text-anchor="middle" textLength="12.60" lengthAdjust="spacingAndGlyphs">11</text>
<text x="1253.42" y="542.00" text-anchor="middle" textLength="12.60" lengthAdjust="spacingAndGlyphs">12</text>
</g>
<text id="xlD" x="1030.39" y="566.20" font-family="'Liberation Sans', sans-serif" font-weight="bold" font-size="14.5" fill="#231f20" textLength="93.81" lengthAdjust="spacingAndGlyphs">Year of Analysis</text>
<text id="ylD" transform="translate(857.00,435.82) rotate(-90)" x="0" y="0" text-anchor="middle" font-family="'Liberation Sans', sans-serif" font-weight="bold" font-size="14.5" fill="#231f20" textLength="181" lengthAdjust="spacingAndGlyphs">Participants Who Survived (%)</text>
<text id="letD" x="833.33" y="330.80" font-family="'Liberation Sans', sans-serif" font-weight="bold" font-size="16.5" fill="#231f20" textLength="13.01" lengthAdjust="spacingAndGlyphs">D</text>
<text id="titD" x="853.49" y="330.80" font-family="'Liberation Sans', sans-serif" font-weight="bold" font-size="14.5" fill="#231f20" textLength="143.42" lengthAdjust="spacingAndGlyphs">SHARE: Eastern Europe</text>
</svg>
</body></html>
